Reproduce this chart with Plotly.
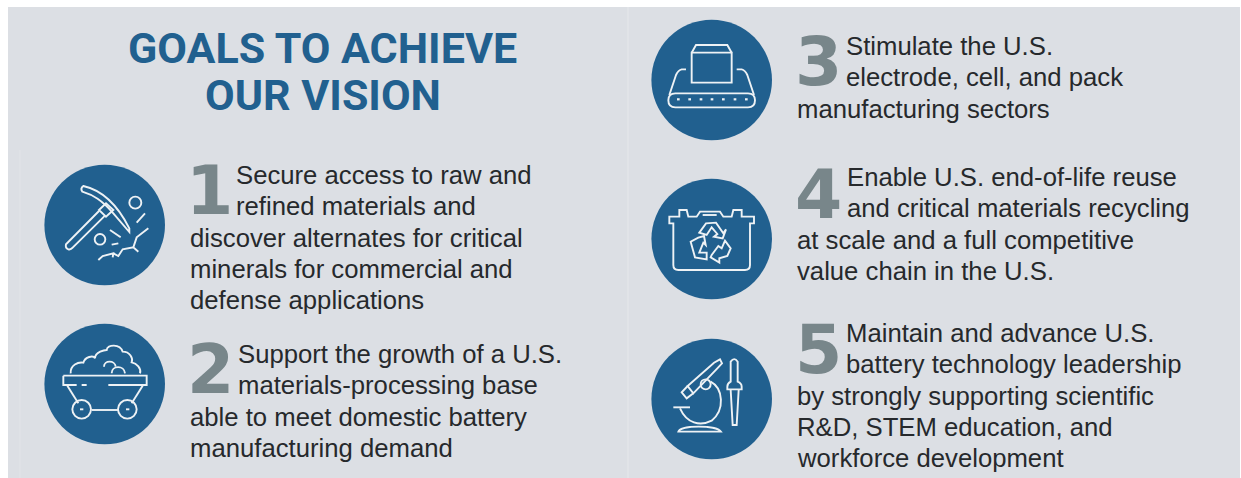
import re
import plotly.graph_objects as go

W, H = 1241, 478
BG = "#DCDFE4"
BLUE = "#21608F"
NUM = "#78868A"
INK = "#26292C"

title_lines = ["GOALS TO ACHIEVE", "OUR VISION"]
title_y = [48, 95]
title_x = 322.5

numerals = ["1", "2", "3", "4", "5"]
numeral_x = [184, 185, 793, 793, 793]
numeral_y = [190, 369, 61, 194, 349]

goal_1 = ["Secure access to raw and", "refined materials and", "discover alternates for critical",
          "minerals for commercial and", "defense applications"]
goal_2 = ["Support the growth of a U.S.", "materials-processing base", "able to meet domestic battery",
          "manufacturing demand"]
goal_3 = ["Stimulate the U.S.", "electrode, cell, and pack", "manufacturing sectors"]
goal_4 = ["Enable U.S. end-of-life reuse", "and critical materials recycling", "at scale and a full competitive",
          "value chain in the U.S."]
goal_5 = ["Maintain and advance U.S.", "battery technology leadership", "by strongly supporting scientific",
          "R&D, STEM education, and", "workforce development"]
goals = [goal_1, goal_2, goal_3, goal_4, goal_5]
goal_top = [175, 354, 46, 177, 333]
goal_indent = [234, 236, 844, 845, 844]
goal_left = [188, 188, 795, 795, 795]
LINE = 31.3

circle_x = [104.7, 104.7, 711.7, 711.7, 711.7]
circle_y = [225, 384, 80, 239, 399]
circle_r = 60.3

# Icon outlines, in the pixels of a 3x crop whose corner is the origin below.
icon_origin = [(30, 150), (30, 315), (640, 10), (640, 170), (640, 330)]
icon_paths = [
    [
        "M160 108 C205 118 255 150 298 235 L298 246 L250 190 C215 150 190 135 157 125 Q150 115 160 108 Z",
        "M207 183 L108 283 Q105 295 115 298 Q122 300 128 293 L225 197",
        "M207 180 L228 160 L250 180 L228 200 Z",
        "M320 218 L345 190", "M240 240 L272 262", "M245 284 L265 280",
        "M205 330 L218 318 L250 310 L248 322 M250 310 L265 318 L278 298 L310 292 L325 305 M310 292 L320 262 L355 235",
    ],
    [
        "M100 182 L350 182 L350 210 L235 210 M155 210 L170 210 M140 210 L100 210 L100 182",
        "M112 212 L145 265", "M338 212 L305 265", "M185 285 L265 285",
        "M150 283 L160 283", "M288 283 L298 283",
        "M122 175 C120 150 145 140 160 143 C165 125 190 120 195 130 C195 110 225 105 230 105 "
        "C232 88 270 85 278 110 C300 110 310 130 305 142 C320 145 335 160 330 175",
        "M222 155 C222 135 255 135 257 155", "M245 175 C245 150 283 150 285 175",
    ],
    [
        "M155 128 L275 128 L275 218 L155 218 Z", "M155 128 L168 105 L262 105 L275 128",
        "M106 250 L324 250 Q345 250 345 271 Q345 292 324 292 L106 292 Q85 292 85 271 Q85 250 106 250 Z",
        "M138 178 L125 178 Q115 180 108 195 L88 255", "M290 178 L305 178 Q315 180 322 195 L342 255",
    ],
    [
        "M88 140 L88 160 L100 160 L100 285 Q100 300 115 300 L315 300 Q330 300 330 285 L330 160 L342 160 L342 140 "
        "L305 140 L305 120 L280 120 L275 140 L250 140 L240 125 L180 125 L170 140 L145 140 L140 120 L118 120 L118 140 Z",
        "M188 135 L230 135",
        "M178 188 L198 160 L228 158 L250 190 L258 178 L248 205 L222 200 L232 192 L215 172 L200 195 Z",
        "M175 203 L152 215 L165 262 L200 268 L200 248 L178 248 L190 218 L197 225 L192 198 Z",
        "M215 255 L235 228 L245 235 L255 212 L272 235 L262 258 L238 265 L238 278 L212 262 Z",
    ],
    [
        "M143 168 L222 98 L240 88 L246 100 L232 115 L160 190 Z",
        "M143 168 L125 187 L140 205 L160 190",
        "M212 155 C250 175 255 240 215 272 C180 290 140 280 120 235",
        "M100 232 L150 232",
        "M115 305 C120 285 230 285 243 305 Z",
        "M272 155 L272 95 Q283 80 293 95 L293 155 Q305 160 305 170 L305 178 L262 178 L262 170 Q262 160 272 155 Z",
        "M272 180 L278 285 L290 285 L296 180",
    ],
]
icon_circles = [
    [(316, 158, 18), (210, 268, 16)],
    [(155, 283, 28), (292, 283, 28)],
    [],
    [],
    [(197, 163, 15)],
]
conveyor_dots = [115, 149, 183, 216, 250, 285, 319]


def place(path, origin):
    ox, oy = origin
    is_x = True

    def repl(m):
        nonlocal is_x
        v = float(m.group(0)) / 3
        v += ox if is_x else oy
        is_x = not is_x
        return f"{v:.2f}"

    return re.sub(r"-?\d+(?:\.\d+)?", repl, path)


shapes = [
    dict(type="rect", x0=8, x1=1240, y0=7, y1=478, fillcolor=BG, line_width=0, layer="below"),
    dict(type="line", x0=628, x1=628, y0=7, y1=478, line=dict(color="#E6E8EB", width=1), layer="below"),
    dict(type="line", x0=20, x1=20, y0=150, y1=478, line=dict(color="#E2E4E8", width=1), layer="below"),
]
for cx, cy in zip(circle_x, circle_y):
    shapes.append(dict(type="circle", x0=cx - circle_r, x1=cx + circle_r, y0=cy - circle_r, y1=cy + circle_r,
                       fillcolor=BLUE, line_width=0))
stroke = dict(color="#EEF2F5", width=1.9)
for origin, paths, circs in zip(icon_origin, icon_paths, icon_circles):
    for p in paths:
        shapes.append(dict(type="path", path=place(p, origin), line=stroke))
    for cx, cy, r in circs:
        x = origin[0] + cx / 3
        y = origin[1] + cy / 3
        shapes.append(dict(type="circle", x0=x - r / 3, x1=x + r / 3, y0=y - r / 3, y1=y + r / 3, line=stroke))
for dx in conveyor_dots:
    shapes.append(dict(type="path", path=place(f"M{dx - 4} 268 L{dx + 4} 268", icon_origin[2]),
                       line=dict(color="#EEF2F5", width=2.2)))

ann = []
for line, y in zip(title_lines, title_y):
    ann.append(dict(x=title_x, y=y, text=line, xanchor="center", yanchor="middle", showarrow=False,
                    font=dict(family="Roboto", size=43, color=BLUE, weight=700)))
for n, x, y in zip(numerals, numeral_x, numeral_y):
    ann.append(dict(x=x, y=y, text=n, xanchor="left", yanchor="middle", showarrow=False,
                    font=dict(family="DejaVu Sans", size=68, color=NUM, weight=700)))
for lines, top, indent, left in zip(goals, goal_top, goal_indent, goal_left):
    for i, line in enumerate(lines):
        ann.append(dict(x=indent if i < 2 else left, y=top + i * LINE, text=line, xanchor="left", yanchor="middle",
                        showarrow=False, font=dict(family="Liberation Sans", size=25.7, color=INK)))

fig = go.Figure()
fig.update_layout(
    width=W, height=H, margin=dict(l=0, r=0, t=0, b=0), paper_bgcolor="white", plot_bgcolor="white",
    xaxis=dict(range=[0, W], visible=False, fixedrange=True),
    yaxis=dict(range=[H, 0], visible=False, fixedrange=True),
    shapes=shapes, annotations=ann, showlegend=False,
)
fig.write_html("out.html", post_script="document.body.style.margin='0';document.body.style.overflow='hidden';",
               config=dict(displayModeBar=False))
